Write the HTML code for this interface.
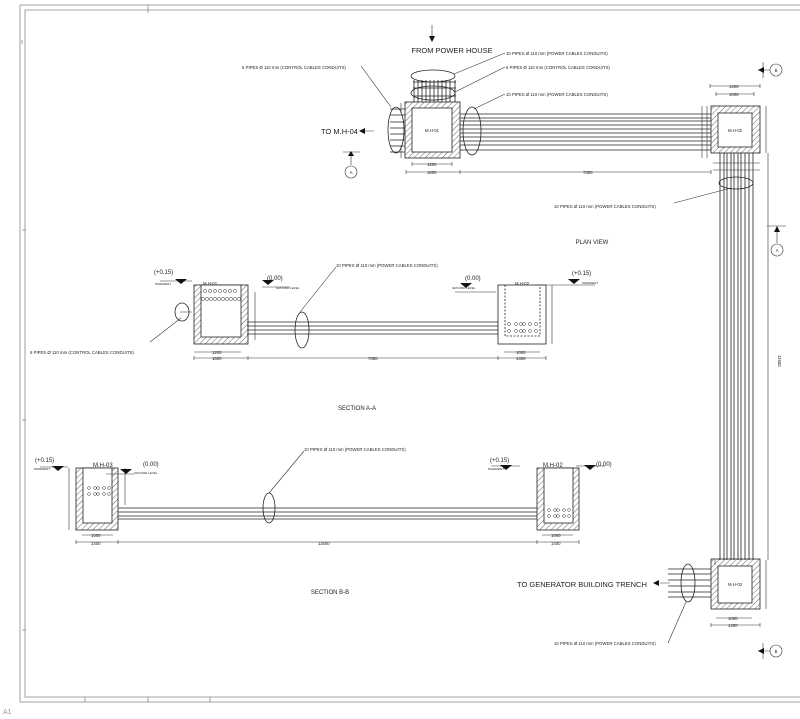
<!DOCTYPE html>
<html><head><meta charset="utf-8"><style>
html,body{margin:0;padding:0;background:#fff;}
svg{display:block;}
text{font-family:"Liberation Sans",sans-serif;fill:#222;}
.s{font-size:4.3px;}
.m{font-size:6px;}
.b{font-size:7.5px;}
</style></head><body>
<svg width="800" height="719" viewBox="0 0 800 719" xmlns="http://www.w3.org/2000/svg">
<defs>
<pattern id="h" width="4" height="4" patternUnits="userSpaceOnUse" patternTransform="rotate(45)">
<line x1="0" y1="0" x2="0" y2="4" stroke="#222" stroke-width="0.7"/>
</pattern>
</defs>
<rect width="800" height="719" fill="#fff"/>
<!-- frame -->
<g fill="none" stroke="#888" stroke-width="0.8">
<path d="M20,5 H800 M25,10 H800 M20,5 V702 H800 M25,10 V697 H800"/>
<path d="M148,5 V13 M85,697 V702 M148,697 V702 M210,697 V702 M22,40 V44 M22,230 H26 M22,420 H26 M22,630 H26"/>
</g>
<text x="3" y="714" style="font-size:7px;fill:#999">A1</text>

<!-- PLAN VIEW -->
<g stroke="#222" stroke-width="0.8" fill="none">
<rect x="405" y="102" width="55" height="56" fill="url(#h)"/>
<rect x="412" y="108" width="40" height="44" fill="#fff"/>
<path d="M414,80V102 M418,80V102 M422,80V102 M426,80V102 M430,80V102 M434,80V102 M438,80V102 M442,80V102 M446,80V102 M450,80V102 M455,80V102"/>
<path d="M413,82H456 M413,88H456 M413,96H456"/>
<ellipse cx="433" cy="76" rx="22" ry="6"/>
<ellipse cx="433" cy="93" rx="22" ry="7"/>
<path d="M390,109H405 M390,115H405 M390,122H405 M390,128H405 M390,134H405 M390,140H405 M390,146H405 M390,152H405"/>
<ellipse cx="396" cy="130" rx="8" ry="23"/>
<path d="M460,114H711 M460,118H711 M460,121H711 M460,125H711 M460,129H711 M460,133H711 M460,137H711 M460,141H711 M460,145H711 M460,150H711"/>
<ellipse cx="472" cy="131" rx="9" ry="24"/>
<rect x="711" y="106" width="49" height="47" fill="url(#h)"/>
<rect x="718" y="113" width="34" height="34" fill="#fff"/>
<path d="M720,153V560 M724,153V560 M727,153V560 M731,153V560 M734,153V560 M738,153V560 M741,153V560 M745,153V560 M749,153V560 M753,153V560"/>
<ellipse cx="736" cy="183" rx="17" ry="6"/>
<rect x="711" y="559" width="49" height="50" fill="url(#h)"/>
<rect x="718" y="566" width="34" height="37" fill="#fff"/>
<path d="M668,569H711 M668,574H711 M668,580H711 M668,586H711 M668,592H711 M668,597H711"/>
<ellipse cx="688" cy="583" rx="7" ry="19"/>
</g>
<g stroke="#333" stroke-width="0.6" fill="none">
<path d="M361,66 L391,107 M454,74 L505,53 M455,92 L505,67 M474,109 L505,94 M674,203 L731,188 M668,643 L686,602"/>
<path d="M406,172H711 M406,170V174 M460,170V174 M711,170V174 M412,164H452 M412,162V166 M452,162V166 M710,86H760 M710,84V88 M760,84V88 M716,94H754 M716,92V96 M754,92V96 M766,106V153 M768,153V560 M713,163H760 M713,170H760 M715,565V560 M716,618H752 M711,625H760 M711,623V627 M760,623V627 M766,560V609 M401,103V113 M401,146V158 M702,106V158 M707,106V158"/>
<path d="M343,152H360 M351,153V165 M767,226H786 M777,227V243 M758,70H770 M763,62V78 M758,651H770 M763,643V659 M432,25V38 M362,131H374 M660,583H670"/>
<circle cx="351" cy="172" r="6"/>
<circle cx="777" cy="250" r="6"/>
<circle cx="776" cy="70" r="6"/>
<circle cx="776" cy="651" r="6"/>
</g>
<path d="M429,36 L432,42 L435,36Z M348,156 L351,151 L354,156Z M774,232 L777,226 L780,232Z M764,67 L758,70 L764,73Z M764,648 L758,651 L764,654Z M365,128 L359,131 L365,134Z M659,580 L653,583 L659,586Z" fill="#111"/>
<g class="s" text-anchor="middle">
<text x="351" y="174">A</text><text x="777" y="252">A</text><text x="776" y="72">B</text><text x="776" y="653">B</text>
</g>
<text x="452" y="53" class="b" text-anchor="middle">FROM POWER HOUSE</text>
<text x="321" y="134" class="b">TO M.H-04</text>
<text x="517" y="587" class="b">TO GENERATOR BUILDING TRENCH</text>
<text x="592" y="244" class="m" text-anchor="middle">PLAN VIEW</text>
<text x="432" y="132" class="s" text-anchor="middle">M.H-01</text>
<text x="735" y="132" class="s" text-anchor="middle">M.H-02</text>
<text x="735" y="586" class="s" text-anchor="middle">M.H-03</text>
<g class="s">
<text x="242" y="69">6 PIPES Ø 110 mm (CONTROL CABLES CONDUITS)</text>
<text x="506" y="55">10 PIPES Ø 110 mm (POWER CABLES CONDUITS)</text>
<text x="506" y="69">6 PIPES Ø 110 mm (CONTROL CABLES CONDUITS)</text>
<text x="506" y="96">10 PIPES Ø 110 mm (POWER CABLES CONDUITS)</text>
<text x="554" y="208">10 PIPES Ø 110 mm (POWER CABLES CONDUITS)</text>
<text x="554" y="645">10 PIPES Ø 110 mm (POWER CABLES CONDUITS)</text>
<text x="583" y="174">7350</text><text x="427" y="174">1600</text><text x="427" y="166">1200</text>
<text x="729" y="88">1400</text><text x="729" y="96">1000</text>
<text x="728" y="620">1000</text><text x="728" y="627">1400</text>
</g>

<!-- SECTION A-A -->
<g stroke="#222" stroke-width="0.8" fill="none">
<rect x="194" y="285" width="54" height="59" fill="url(#h)"/>
<rect x="201" y="285" width="40" height="52" fill="#fff"/>
<path d="M247,322H498 M247,326H498 M247,330H498 M247,334H498"/>
<ellipse cx="302" cy="330" rx="7" ry="18"/>
<rect x="498" y="285" width="48" height="59"/>
<path d="M505,285V336H540V285" stroke-dasharray="2,1.5"/>
<ellipse cx="182" cy="312" rx="7" ry="9"/>
</g>
<g stroke="#333" stroke-width="0.6" fill="none">
<path d="M180,312H192 M181,318 L150,342 M300,312 L336,267"/>
<path d="M194,352H241 M194,358H546 M194,356V360 M248,356V360 M498,356V360 M546,356V360 M504,352H540 M255,292V340 M552,285V344 M160,281H192 M262,287H290 M535,285H595 M455,292H496"/>
</g>
<g fill="none" stroke="#333" stroke-width=".5">
<circle cx="205" cy="291" r="1.6"/>
<circle cx="210" cy="291" r="1.6"/><circle cx="215" cy="291" r="1.6"/><circle cx="220" cy="291" r="1.6"/><circle cx="225" cy="291" r="1.6"/><circle cx="230" cy="291" r="1.6"/><circle cx="235" cy="291" r="1.6"/>
<circle cx="203" cy="299" r="1.6"/><circle cx="207" cy="299" r="1.6"/><circle cx="211" cy="299" r="1.6"/><circle cx="215" cy="299" r="1.6"/><circle cx="219" cy="299" r="1.6"/><circle cx="223" cy="299" r="1.6"/><circle cx="227" cy="299" r="1.6"/><circle cx="231" cy="299" r="1.6"/><circle cx="235" cy="299" r="1.6"/><circle cx="239" cy="299" r="1.6"/>
<circle cx="509" cy="324" r="1.5"/><circle cx="516" cy="324" r="1.5"/><circle cx="521" cy="324" r="1.5"/><circle cx="524" cy="324" r="1.5"/><circle cx="530" cy="324" r="1.5"/><circle cx="536" cy="324" r="1.5"/>
<circle cx="509" cy="331" r="1.5"/><circle cx="516" cy="331" r="1.5"/><circle cx="521" cy="331" r="1.5"/><circle cx="524" cy="331" r="1.5"/><circle cx="530" cy="331" r="1.5"/><circle cx="536" cy="331" r="1.5"/>
</g>
<path d="M175,279 L187,279 L181,284Z M262,280 L274,280 L268,285Z M460,283 L472,283 L466,288Z M568,279 L580,279 L574,284Z" fill="#111"/>
<g class="m"><text x="154" y="274">(+0.15)</text><text x="267" y="280">(0.00)</text><text x="465" y="280">(0.00)</text><text x="572" y="275">(+0.15)</text></g>
<g class="s">
<text x="155" y="285" style="font-size:3px">PAVEMENT</text><text x="276" y="289" style="font-size:3px">GROUND LEVEL</text>
<text x="452" y="289" style="font-size:3px">GROUND LEVEL</text><text x="582" y="284" style="font-size:3px">PAVEMENT</text>
<text x="203" y="285">M.H-01</text><text x="515" y="285">M.H-02</text>
<text x="336" y="267">10 PIPES Ø 110 mm (POWER CABLES CONDUITS)</text>
<text x="30" y="354">6 PIPES Ø 110 mm (CONTROL CABLES CONDUITS)</text>
<text x="212" y="354">1200</text><text x="212" y="360">1600</text><text x="368" y="360">7350</text><text x="516" y="354">1000</text><text x="516" y="360">1400</text>
</g>
<text x="357" y="410" class="m" text-anchor="middle">SECTION A-A</text>

<!-- SECTION B-B -->
<g stroke="#222" stroke-width="0.8" fill="none">
<rect x="76" y="468" width="42" height="62" fill="url(#h)"/>
<rect x="83" y="468" width="29" height="55" fill="#fff"/>
<rect x="537" y="468" width="42" height="62" fill="url(#h)"/>
<rect x="544" y="468" width="29" height="55" fill="#fff"/>
<path d="M118,508H537 M118,512H537 M118,516H537 M118,519H537"/>
<ellipse cx="269" cy="508" rx="6" ry="15"/>
</g>
<g stroke="#333" stroke-width="0.6" fill="none">
<path d="M269,493 L304,451"/>
<path d="M82,535H113 M76,542H579 M76,540V544 M118,540V544 M537,540V544 M579,540V544 M542,535H573 M69,468V530 M125,468V505 M40,467H68 M106,474H134 M491,466H520 M576,466H605"/>
</g>
<g fill="none" stroke="#333" stroke-width=".5">
<circle cx="89" cy="488" r="1.4"/><circle cx="95" cy="488" r="1.4"/><circle cx="98" cy="488" r="1.4"/><circle cx="104" cy="488" r="1.4"/><circle cx="109" cy="488" r="1.4"/>
<circle cx="89" cy="494" r="1.4"/><circle cx="95" cy="494" r="1.4"/><circle cx="98" cy="494" r="1.4"/><circle cx="104" cy="494" r="1.4"/><circle cx="109" cy="494" r="1.4"/>
<circle cx="549" cy="510" r="1.4"/><circle cx="555" cy="510" r="1.4"/><circle cx="558" cy="510" r="1.4"/><circle cx="564" cy="510" r="1.4"/><circle cx="569" cy="510" r="1.4"/>
<circle cx="549" cy="516" r="1.4"/><circle cx="555" cy="516" r="1.4"/><circle cx="558" cy="516" r="1.4"/><circle cx="564" cy="516" r="1.4"/><circle cx="569" cy="516" r="1.4"/>
</g>
<path d="M52,466 L64,466 L58,471Z M120,469 L132,469 L126,474Z M500,465 L512,465 L506,470Z M584,465 L596,465 L590,470Z" fill="#111"/>
<g class="m"><text x="35" y="462">(+0.15)</text><text x="143" y="466">(0.00)</text><text x="490" y="462">(+0.15)</text><text x="596" y="466">(0.00)</text></g>
<g class="s">
<text x="34" y="470" style="font-size:3px">PAVEMENT</text><text x="134" y="474" style="font-size:3px">GROUND LEVEL</text><text x="488" y="470" style="font-size:3px">PAVEMENT</text>
<text x="304" y="451">10 PIPES Ø 110 mm (POWER CABLES CONDUITS)</text>
<text x="91" y="537">1000</text><text x="91" y="545">1400</text><text x="318" y="545">11600</text><text x="551" y="537">1000</text><text x="551" y="545">1400</text>
</g>
<text x="93" y="467" class="m">M.H-03</text>
<text x="543" y="467" class="m">M.H-02</text>
<text x="330" y="594" class="m" text-anchor="middle">SECTION B-B</text>
<text x="778" y="355" class="s" transform="rotate(90 778 355)">11600</text>
</svg>
</body></html>
